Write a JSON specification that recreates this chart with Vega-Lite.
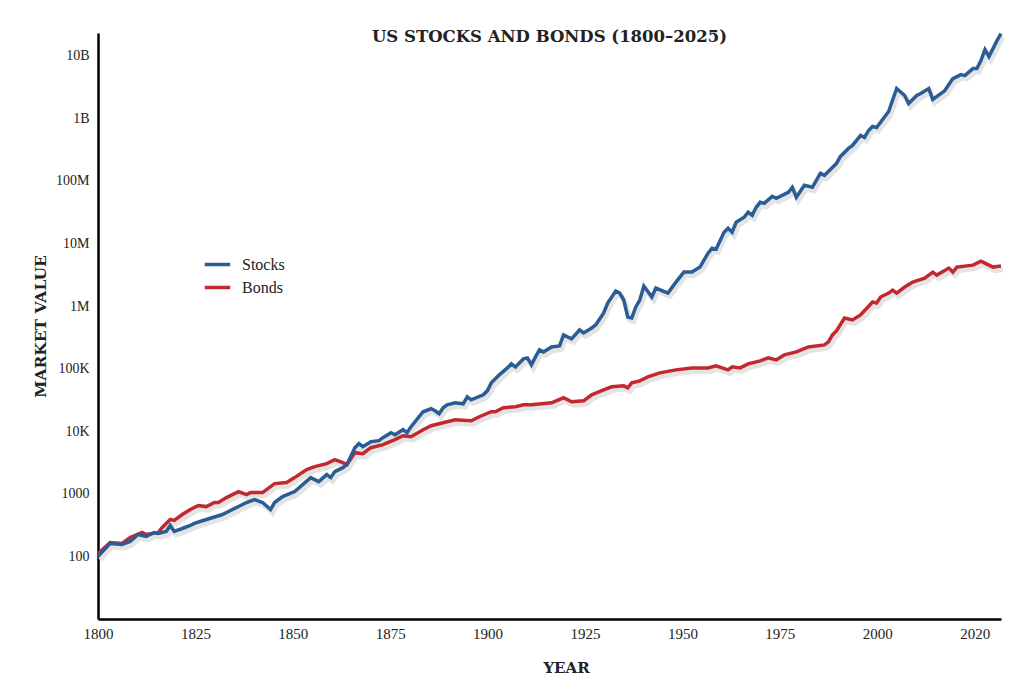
{
  "$schema": "https://vega.github.io/schema/vega-lite/v6.json",
  "width": 903,
  "height": 586,
  "autosize": {"type": "none"},
  "padding": {"left": 98, "top": 33, "right": 23, "bottom": 68},
  "background": "white",
  "config": {"view": {"stroke": null}, "font": "DejaVu Serif"},
  "title": {"text": "US STOCKS AND BONDS (1800–2025)", "font": "DejaVu Serif", "fontSize": 16.5, "fontWeight": "bold", "color": "#222222", "anchor": "middle", "offset": -19},
  "datasets": {
    "stocks": [
      {"year":1800,"value":100},{"year":1803,"value":161},{"year":1806,"value":155},{"year":1808,"value":173},{"year":1810,"value":224},{"year":1812,"value":208},{"year":1814,"value":241},{"year":1815,"value":233},{"year":1817,"value":250},{"year":1818,"value":312},{"year":1819,"value":250},{"year":1821,"value":279},{"year":1823,"value":312},{"year":1824,"value":336},{"year":1827,"value":389},{"year":1831,"value":467},{"year":1834,"value":582},{"year":1837,"value":726},{"year":1839,"value":809},{"year":1841,"value":726},{"year":1843,"value":561},{"year":1844,"value":726},{"year":1846,"value":904},{"year":1849,"value":1086},{"year":1851,"value":1404},{"year":1853,"value":1815},{"year":1855,"value":1567},{"year":1857,"value":2026},{"year":1858,"value":1815},{"year":1859,"value":2264},{"year":1861,"value":2619},{"year":1862,"value":2924},{"year":1864,"value":5455},{"year":1865,"value":6322},{"year":1866,"value":5665},{"year":1868,"value":6808},{"year":1870,"value":7064},{"year":1871,"value":7876},{"year":1873,"value":9460},{"year":1874,"value":8790},{"year":1876,"value":10570},{"year":1877,"value":9460},{"year":1878,"value":11800},{"year":1881,"value":20470},{"year":1883,"value":22860},{"year":1884,"value":21230},{"year":1885,"value":19010},{"year":1886,"value":23720},{"year":1887,"value":26440},{"year":1889,"value":28450},{"year":1891,"value":27420},{"year":1892,"value":35460},{"year":1893,"value":31780},{"year":1896,"value":38200},{"year":1897,"value":44170},{"year":1898,"value":59230},{"year":1900,"value":79460},{"year":1902,"value":102700},{"year":1903,"value":119000},{"year":1904,"value":106600},{"year":1906,"value":143000},{"year":1907,"value":148300},{"year":1908,"value":114800},{"year":1909,"value":153900},{"year":1910,"value":199000},{"year":1911,"value":185000},{"year":1913,"value":222300},{"year":1915,"value":230600},{"year":1916,"value":345300},{"year":1918,"value":298000},{"year":1920,"value":414600},{"year":1921,"value":371500},{"year":1923,"value":445700},{"year":1924,"value":498000},{"year":1926,"value":773000},{"year":1927,"value":1117000},{"year":1929,"value":1734000},{"year":1930,"value":1611000},{"year":1931,"value":1247000},{"year":1932,"value":668600},{"year":1933,"value":644600},{"year":1934,"value":964700},{"year":1935,"value":1247000},{"year":1936,"value":2084000},{"year":1938,"value":1391000},{"year":1939,"value":1936000},{"year":1942,"value":1611000},{"year":1944,"value":2411000},{"year":1946,"value":3482000},{"year":1948,"value":3482000},{"year":1950,"value":4185000},{"year":1952,"value":6998000},{"year":1953,"value":8400000},{"year":1954,"value":8100000},{"year":1956,"value":15100000},{"year":1957,"value":17500000},{"year":1958,"value":15100000},{"year":1959,"value":21800000},{"year":1961,"value":26200000},{"year":1962,"value":31500000},{"year":1963,"value":28200000},{"year":1964,"value":37800000},{"year":1965,"value":45400000},{"year":1966,"value":43800000},{"year":1968,"value":56600000},{"year":1969,"value":52600000},{"year":1972,"value":65600000},{"year":1973,"value":78800000},{"year":1974,"value":54600000},{"year":1976,"value":84800000},{"year":1978,"value":78800000},{"year":1980,"value":131800000},{"year":1981,"value":122500000},{"year":1984,"value":190100000},{"year":1985,"value":245600000},{"year":1987,"value":329500000},{"year":1988,"value":368000000},{"year":1990,"value":531300000},{"year":1991,"value":493600000},{"year":1992,"value":638000000},{"year":1993,"value":739000000},{"year":1994,"value":712800000},{"year":1997,"value":1283000000},{"year":1999,"value":2982000000},{"year":2001,"value":2306000000},{"year":2002,"value":1720000000},{"year":2004,"value":2306000000},{"year":2005,"value":2479000000},{"year":2007,"value":2982000000},{"year":2008,"value":1991000000},{"year":2010,"value":2479000000},{"year":2011,"value":2770000000},{"year":2013,"value":4298000000},{"year":2015,"value":4977000000},{"year":2016,"value":4800000000},{"year":2018,"value":6210000000},{"year":2019,"value":6210000000},{"year":2020,"value":8321000000},{"year":2021,"value":12470000000},{"year":2022,"value":9640000000},{"year":2024,"value":17330000000},{"year":2025,"value":22430000000}
    ],
    "bonds": [
      {"year":1800,"value":110},{"year":1803,"value":167},{"year":1806,"value":161},{"year":1808,"value":201},{"year":1811,"value":241},{"year":1812,"value":224},{"year":1815,"value":241},{"year":1816,"value":290},{"year":1818,"value":389},{"year":1819,"value":375},{"year":1821,"value":467},{"year":1823,"value":561},{"year":1825,"value":650},{"year":1827,"value":625},{"year":1829,"value":726},{"year":1830,"value":726},{"year":1832,"value":871},{"year":1835,"value":1086},{"year":1837,"value":973},{"year":1838,"value":1047},{"year":1841,"value":1047},{"year":1844,"value":1456},{"year":1847,"value":1510},{"year":1849,"value":1815},{"year":1852,"value":2434},{"year":1854,"value":2716},{"year":1857,"value":3033},{"year":1859,"value":3513},{"year":1861,"value":3147},{"year":1862,"value":2924},{"year":1864,"value":4539},{"year":1866,"value":4376},{"year":1868,"value":5455},{"year":1871,"value":6091},{"year":1874,"value":7322},{"year":1876,"value":8480},{"year":1878,"value":8170},{"year":1881,"value":10570},{"year":1883,"value":12250},{"year":1886,"value":13660},{"year":1889,"value":15250},{"year":1893,"value":14700},{"year":1895,"value":17020},{"year":1898,"value":20470},{"year":1899,"value":20470},{"year":1901,"value":23720},{"year":1904,"value":24570},{"year":1906,"value":26440},{"year":1908,"value":26440},{"year":1913,"value":28450},{"year":1916,"value":34200},{"year":1918,"value":29500},{"year":1921,"value":30600},{"year":1923,"value":38200},{"year":1926,"value":45800},{"year":1928,"value":51200},{"year":1931,"value":53100},{"year":1932,"value":49300},{"year":1933,"value":59200},{"year":1935,"value":63800},{"year":1937,"value":73800},{"year":1940,"value":85500},{"year":1944,"value":95500},{"year":1948,"value":102700},{"year":1952,"value":102700},{"year":1954,"value":110600},{"year":1957,"value":95500},{"year":1958,"value":106600},{"year":1960,"value":102700},{"year":1962,"value":119000},{"year":1965,"value":133000},{"year":1967,"value":148300},{"year":1969,"value":137800},{"year":1971,"value":165600},{"year":1974,"value":185000},{"year":1977,"value":222300},{"year":1981,"value":239000},{"year":1982,"value":266900},{"year":1983,"value":345300},{"year":1984,"value":400000},{"year":1986,"value":644600},{"year":1988,"value":598400},{"year":1990,"value":719200},{"year":1993,"value":1158000},{"year":1994,"value":1117000},{"year":1995,"value":1391000},{"year":1997,"value":1611000},{"year":1998,"value":1799000},{"year":1999,"value":1611000},{"year":2001,"value":2009000},{"year":2003,"value":2411000},{"year":2006,"value":2793000},{"year":2008,"value":3482000},{"year":2009,"value":3117000},{"year":2012,"value":4035000},{"year":2013,"value":3482000},{"year":2014,"value":4185000},{"year":2018,"value":4498000},{"year":2020,"value":5209000},{"year":2021,"value":4843000},{"year":2023,"value":4185000},{"year":2025,"value":4345000}
    ]
  },
  "layer": [
    {
      "data": {"name": "bonds"},
      "mark": {"type": "line", "color": "#e4e4e4", "strokeWidth": 5, "xOffset": 2, "yOffset": 3.5},
      "encoding": {
        "x": {"field": "year", "type": "quantitative"},
        "y": {"field": "value", "type": "quantitative"}
      }
    },
    {
      "data": {"name": "stocks"},
      "mark": {"type": "line", "color": "#e4e4e4", "strokeWidth": 5, "xOffset": 2, "yOffset": 3.5},
      "encoding": {
        "x": {"field": "year", "type": "quantitative"},
        "y": {"field": "value", "type": "quantitative"}
      }
    },
    {
      "data": {"name": "bonds"},
      "transform": [{"calculate": "'Bonds'", "as": "series"}],
      "mark": {"type": "line", "strokeWidth": 3.5},
      "encoding": {
        "x": {"field": "year", "type": "quantitative"},
        "y": {"field": "value", "type": "quantitative"},
        "color": {"field": "series", "type": "nominal"}
      }
    },
    {
      "data": {"name": "stocks"},
      "transform": [{"calculate": "'Stocks'", "as": "series"}],
      "mark": {"type": "line", "strokeWidth": 3.5},
      "encoding": {
        "x": {
          "field": "year", "type": "quantitative",
          "scale": {"domain": [1800, 2025], "nice": false, "zero": false},
          "axis": {
            "title": "YEAR", "titleFont": "DejaVu Serif", "titleFontSize": 15, "titleFontWeight": "bold", "titleColor": "#222222", "titlePadding": 19, "titleX": 468,
            "values": [1800, 1824.27, 1848.54, 1872.81, 1897.08, 1921.35, 1945.62, 1969.89, 1994.16, 2018.43],
            "labelExpr": "datum.value > 2010 ? '2020' : format(round(datum.value / 25) * 25, 'd')",
            "labelFont": "Liberation Serif", "labelFontSize": 15, "labelColor": "#222222", "labelPadding": 7, "labelFlush": false,
            "ticks": false, "grid": false, "domainColor": "#000000", "domainWidth": 2.5
          }
        },
        "y": {
          "field": "value", "type": "quantitative",
          "scale": {"type": "log", "domain": [10, 23000000000], "nice": false},
          "axis": {
            "title": "MARKET VALUE", "titleFont": "DejaVu Serif", "titleFontSize": 15.5, "titleFontWeight": "bold", "titleColor": "#222222", "titlePadding": 7,
            "values": [100, 1000, 10000, 100000, 1000000, 10000000, 100000000, 1000000000, 10000000000],
            "labelExpr": "datum.value >= 1e9 ? format(round(datum.value / 1e9), 'd') + 'B' : datum.value >= 1e6 ? format(round(datum.value / 1e6), 'd') + 'M' : datum.value >= 1e4 ? format(round(datum.value / 1e3), 'd') + 'K' : format(datum.value, 'd')",
            "labelFont": "Liberation Serif", "labelFontSize": 14, "labelColor": "#222222", "labelPadding": 9, "labelFlush": false,
            "ticks": false, "grid": false, "domainColor": "#000000", "domainWidth": 2.5
          }
        },
        "color": {
          "field": "series", "type": "nominal",
          "scale": {"domain": ["Stocks", "Bonds"], "range": ["#2a5d96", "#c4282f"]},
          "legend": {
            "title": null, "orient": "none", "legendX": 105, "legendY": 217,
            "symbolType": "stroke", "symbolStrokeWidth": 3.5, "symbolSize": 650,
            "labelFont": "Liberation Serif", "labelFontSize": 16, "labelColor": "#222222", "labelOffset": 10, "rowPadding": 0
          }
        }
      }
    }
  ]
}
